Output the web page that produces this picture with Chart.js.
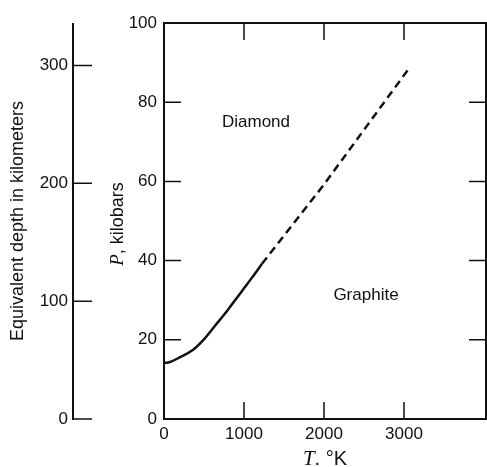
<!DOCTYPE html>
<html>
<head>
<meta charset="utf-8">
<script src="https://cdn.jsdelivr.net/npm/chart.js@4.4.1/dist/chart.umd.min.js"></script>
<style>
  html, body { margin: 0; padding: 0; background: #fff; }
</style>
</head>
<body>
<canvas id="chart" width="487" height="467"></canvas>
<script>
// Graphite-diamond equilibrium line (T in K, P in kilobars)
const solidT = [0, 75, 200, 360, 490, 640, 800, 900, 1000, 1100, 1225];
const solidP = [14.1, 14.4, 15.6, 17.4, 19.9, 23.6, 27.6, 30.3, 33.0, 35.7, 39.2];
const dashedT = [1225, 2000, 3075];
const dashedP = [39.2, 59.2, 88.9];

const xTicks = [0, 1000, 2000, 3000];
const pTicks = [0, 20, 40, 60, 80, 100];
const depthTicks = [0, 100, 200, 300];

const regionNames = ['Diamond', 'Graphite'];
const regionT = [1150, 2525];
const regionP = [75, 31.3];

const ink = '#111';
const tickFont = { family: 'Liberation Sans, Arial, sans-serif', size: 17 };

function toPoints(xs, ys) {
    return xs.map((x, i) => ({ x: x, y: ys[i] }));
}

function fixedTicks(values) {
    return function(scale) {
        scale.ticks = values.map(v => ({ value: v }));
    };
}

// left axes get a fixed width and no extra padding above/below
function fixedWidth(w) {
    return function(scale) {
        scale.width = w;
        scale.paddingTop = 0;
        scale.paddingBottom = 0;
    };
}

// italic symbol followed by plain text, centred on (0,0)
function symbolTitle(ctx, sym, rest, symFont, restFont) {
    ctx.textAlign = 'left';
    ctx.font = symFont;
    const sw = ctx.measureText(sym).width;
    ctx.font = restFont;
    const rw = ctx.measureText(rest).width;
    const start = -(sw + rw) / 2;
    ctx.font = symFont;
    ctx.fillText(sym, start, 0);
    ctx.font = restFont;
    ctx.fillText(rest, start + sw, 0);
}

// frame, inward ticks, depth axis, titles and region names
const decorations = {
    id: 'decorations',
    afterDraw(chart) {
        const ctx = chart.ctx;
        const a = chart.chartArea;
        const x = chart.scales.x;
        const y = chart.scales.y;
        const d = chart.scales.y2;
        const tl = 17;

        ctx.save();
        ctx.strokeStyle = ink;
        ctx.fillStyle = ink;
        ctx.lineWidth = 2;
        ctx.strokeRect(a.left, a.top, a.right - a.left, a.bottom - a.top);

        ctx.lineWidth = 1.5;
        ctx.beginPath();
        xTicks.slice(1).forEach(v => {
            const px = x.getPixelForValue(v);
            ctx.moveTo(px, a.bottom); ctx.lineTo(px, a.bottom - tl);
            ctx.moveTo(px, a.top); ctx.lineTo(px, a.top + tl);
        });
        pTicks.slice(1, -1).forEach(v => {
            const py = y.getPixelForValue(v);
            ctx.moveTo(a.left, py); ctx.lineTo(a.left + tl, py);
            ctx.moveTo(a.right, py); ctx.lineTo(a.right - tl, py);
        });
        ctx.stroke();

        // depth axis line sits inside the y2 box
        const dx = d.right - 27;
        ctx.lineWidth = 2;
        ctx.beginPath();
        ctx.moveTo(dx, d.getPixelForValue(0) + 1);
        ctx.lineTo(dx, d.getPixelForValue(d.max));
        ctx.stroke();
        ctx.lineWidth = 1.5;
        ctx.beginPath();
        depthTicks.forEach(v => {
            const py = d.getPixelForValue(v);
            ctx.moveTo(dx, py); ctx.lineTo(dx + 19, py);
        });
        ctx.stroke();

        // axis titles
        ctx.textBaseline = 'middle';
        ctx.textAlign = 'center';
        ctx.save();
        ctx.translate(18, (a.top + a.bottom) / 2);
        ctx.rotate(-Math.PI / 2);
        ctx.font = '18px Liberation Sans, Arial, sans-serif';
        ctx.fillText('Equivalent depth in kilometers', 0, 0);
        ctx.restore();

        ctx.save();
        ctx.translate(118, (a.top + a.bottom) / 2 + 3);
        ctx.rotate(-Math.PI / 2);
        symbolTitle(ctx, 'P', ', kilobars', 'italic 19px Liberation Serif, serif', '18px Liberation Sans, Arial, sans-serif');
        ctx.restore();

        ctx.save();
        ctx.translate((a.left + a.right) / 2, 459);
        symbolTitle(ctx, 'T', '. \u00b0K', 'italic 21px Liberation Serif, serif', '20px Liberation Sans, Arial, sans-serif');
        ctx.restore();

        // phase region names
        ctx.textAlign = 'center';
        ctx.font = '17px Liberation Sans, Arial, sans-serif';
        regionNames.forEach((name, i) => {
            ctx.fillText(name, x.getPixelForValue(regionT[i]), y.getPixelForValue(regionP[i]));
        });
        ctx.restore();
    }
};

const chart = new Chart(document.getElementById('chart'), {
    type: 'scatter',
    data: {
        datasets: [
            {
                data: toPoints(solidT, solidP),
                showLine: true,
                borderColor: ink,
                borderWidth: 2.5,
                pointRadius: 0,
                cubicInterpolationMode: 'monotone'
            },
            {
                data: toPoints(dashedT, dashedP),
                showLine: true,
                borderColor: ink,
                borderWidth: 2.5,
                borderDash: [8, 5],
                pointRadius: 0,
                tension: 0
            }
        ]
    },
    options: {
        responsive: false,
        animation: false,
        devicePixelRatio: 1,
        layout: { padding: { top: 23, right: 1, bottom: 0, left: 0 } },
        plugins: { legend: { display: false }, tooltip: { enabled: false } },
        scales: {
            x: {
                type: 'linear',
                position: 'bottom',
                min: 0,
                max: 4025,
                grid: { display: false, drawTicks: false },
                border: { display: false },
                ticks: { color: ink, font: tickFont, padding: 5, maxRotation: 0, autoSkip: false, callback: v => String(v) },
                afterBuildTicks: fixedTicks(xTicks),
                afterFit: s => { s.height = 48; s.paddingLeft = 0; s.paddingRight = 0; }
            },
            y: {
                type: 'linear',
                position: 'left',
                weight: 0,
                min: 0,
                max: 100,
                grid: { display: false, drawTicks: false },
                border: { display: false },
                ticks: { color: ink, font: tickFont, padding: 7, autoSkip: false, callback: v => String(v) },
                afterBuildTicks: fixedTicks(pTicks),
                afterFit: fixedWidth(64)
            },
            y2: {
                type: 'linear',
                position: 'left',
                weight: 1,
                min: 0,
                max: 336,
                grid: { display: false, drawTicks: false },
                border: { display: false },
                ticks: { color: ink, font: tickFont, padding: 32, autoSkip: false, callback: v => String(v) },
                afterBuildTicks: fixedTicks(depthTicks),
                afterFit: fixedWidth(100)
            }
        }
    },
    plugins: [decorations]
});
</script>
</body>
</html>
